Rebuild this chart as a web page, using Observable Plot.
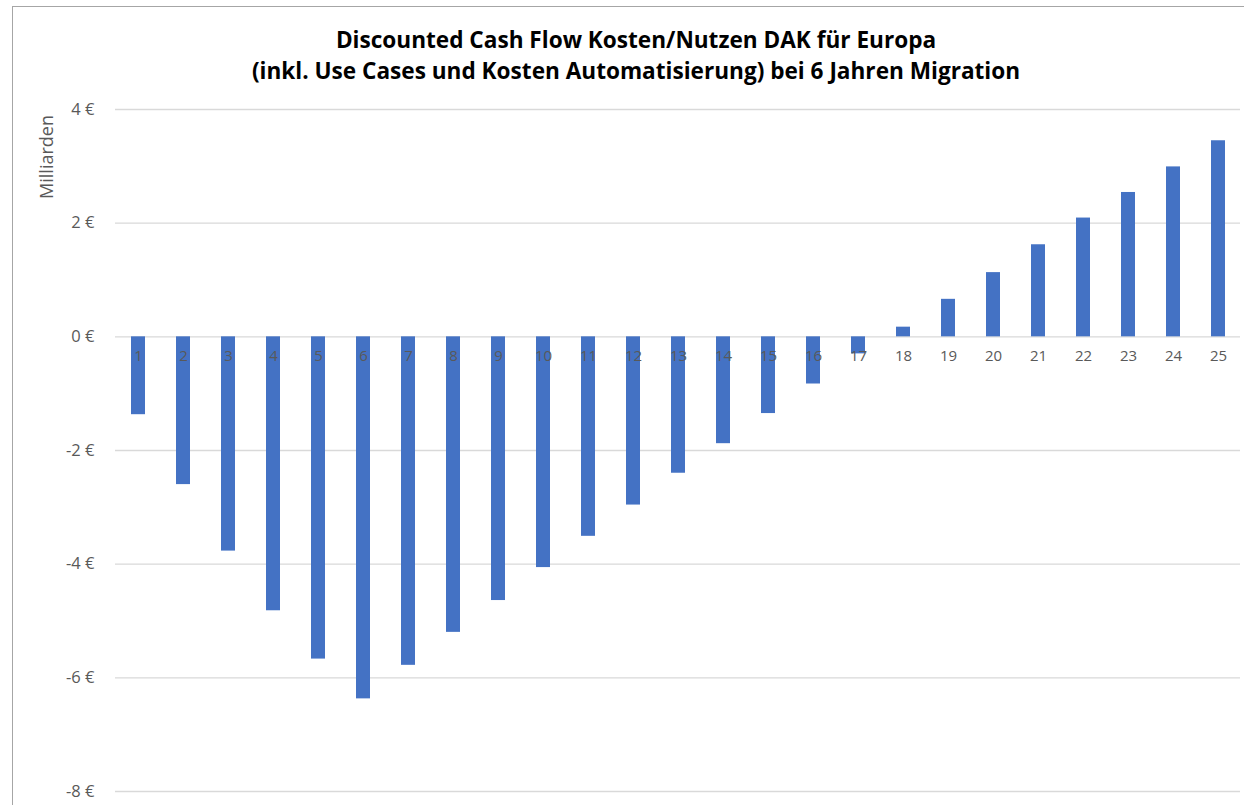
<!DOCTYPE html>
<html>
<head>
<meta charset="utf-8">
<script src="https://cdn.jsdelivr.net/npm/d3@7"></script>
<script src="https://cdn.jsdelivr.net/npm/@observablehq/plot@0.6"></script>
<style>
  body { margin: 0; background: #fff; }
  #wrap { position: relative; width: 1244px; height: 805px; overflow: hidden; font-family: "Open Sans", sans-serif; }
  #frame { position: absolute; left: 12px; top: 6px; right: -4px; bottom: -4px; border-left: 1px solid #a6a6a6; border-top: 1px solid #a6a6a6; }
  #title { position: absolute; left: 0; width: 1272px; top: 24px; text-align: center; font-weight: 700; font-size: 22.6px; line-height: 31px; color: #000; }
  #ylabel { position: absolute; left: 46px; top: 157px; transform: translate(-50%, -50%) rotate(-90deg); font-size: 18px; color: #595959; white-space: nowrap; }
  #chart { position: absolute; left: 0; top: 0; }
</style>
</head>
<body>
<div id="wrap">
  <div id="frame"></div>
  <div id="chart"></div>
  <div id="title">Discounted Cash Flow Kosten/Nutzen DAK für Europa<br>(inkl. Use Cases und Kosten Automatisierung) bei 6 Jahren Migration</div>
  <div id="ylabel">Milliarden</div>
</div>
<script>
// Years of the discounted cash flow and cumulative value per year (billion €)
const years = [1, 2, 3, 4, 5, 6, 7, 8, 9, 10, 11, 12, 13, 14, 15, 16, 17, 18, 19, 20, 21, 22, 23, 24, 25];
const values = [-1.37, -2.60, -3.77, -4.82, -5.67, -6.37, -5.78, -5.20, -4.64, -4.06, -3.51, -2.96, -2.40, -1.88, -1.35, -0.83, -0.30, 0.17, 0.66, 1.13, 1.62, 2.09, 2.54, 2.99, 3.45];
const yTicks = [-8, -6, -4, -2, 0, 2, 4];

const data = years.map((year, i) => ({year, value: values[i]}));
const euro = d => `${d} €`;

const chart = Plot.plot({
  width: 1244,
  height: 805,
  marginTop: 109,
  marginBottom: 14,
  marginLeft: 115,
  marginRight: 4,
  x: {domain: years, paddingInner: 0.69, paddingOuter: 0.345, axis: null},
  y: {domain: [-8, 4], axis: null},
  style: {fontFamily: "'Open Sans', sans-serif", background: "transparent", color: "#595959"},
  marks: [
    Plot.ruleY(yTicks, {stroke: "#d9d9d9", strokeWidth: 1.3}),
    Plot.axisY({ticks: yTicks, tickSize: 0, tickPadding: 21, tickFormat: euro, label: null, fill: "#595959", fontSize: 16.5}),
    Plot.barY(data, {x: "year", y: "value", fill: "#4472c4"}),
    Plot.text(data, {x: "year", y: 0, text: d => String(d.year), dy: 19, fill: "#595959", fontSize: 15})
  ]
});
document.getElementById("chart").append(chart);
</script>
</body>
</html>
